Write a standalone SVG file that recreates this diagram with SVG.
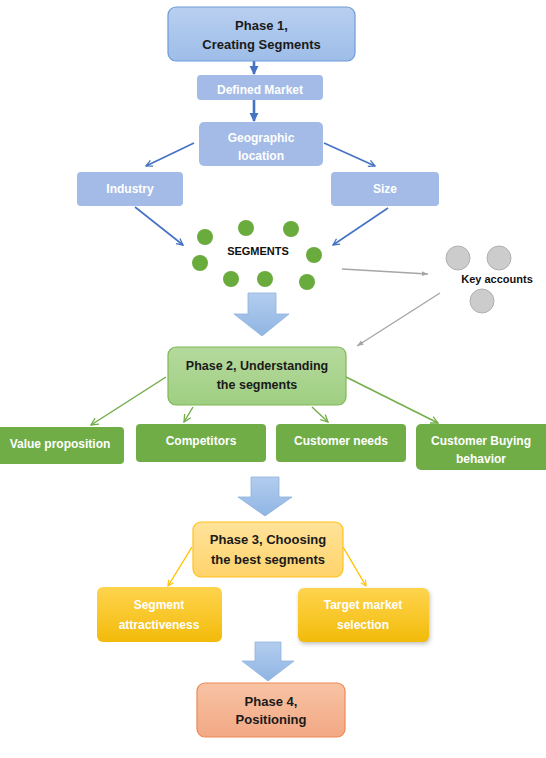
<svg xmlns="http://www.w3.org/2000/svg" width="546" height="758" viewBox="0 0 546 758">
<defs>
<linearGradient id="gBlue" x1="0" y1="0" x2="0" y2="1"><stop offset="0" stop-color="#b9cff0"/><stop offset="1" stop-color="#9dbde8"/></linearGradient>
<linearGradient id="gGreen" x1="0" y1="0" x2="0" y2="1"><stop offset="0" stop-color="#b5d99d"/><stop offset="1" stop-color="#9fcf82"/></linearGradient>
<linearGradient id="gYel" x1="0" y1="0" x2="0" y2="1"><stop offset="0" stop-color="#ffe39a"/><stop offset="1" stop-color="#ffd36b"/></linearGradient>
<linearGradient id="gGold" x1="0" y1="0" x2="0" y2="1"><stop offset="0" stop-color="#ffd44e"/><stop offset="1" stop-color="#f2bb0a"/></linearGradient>
<linearGradient id="gOrange" x1="0" y1="0" x2="0" y2="1"><stop offset="0" stop-color="#f8c3a4"/><stop offset="1" stop-color="#f2a884"/></linearGradient>
<linearGradient id="gArrow" x1="0" y1="0" x2="0" y2="1"><stop offset="0" stop-color="#b3cdee"/><stop offset="1" stop-color="#8fb5e3"/></linearGradient>
<marker id="mBlue" viewBox="0 0 10 10" refX="9" refY="5" markerWidth="8" markerHeight="8" orient="auto" markerUnits="userSpaceOnUse"><path d="M1,1 L9,5 L1,9" fill="none" stroke="#4472c4" stroke-width="1.6"/></marker>
<marker id="mBlueF" viewBox="0 0 10 10" refX="9" refY="5" markerWidth="9" markerHeight="10" orient="auto" markerUnits="userSpaceOnUse"><path d="M0,0 L10,5 L0,10 Z" fill="#4472c4"/></marker>
<marker id="mGreen" viewBox="0 0 10 10" refX="9" refY="5" markerWidth="9" markerHeight="9" orient="auto" markerUnits="userSpaceOnUse"><path d="M1,1 L9,5 L1,9" fill="none" stroke="#70ad47" stroke-width="1.4"/></marker>
<marker id="mGray" viewBox="0 0 10 10" refX="9" refY="5" markerWidth="7" markerHeight="7" orient="auto" markerUnits="userSpaceOnUse"><path d="M0,1.5 L9,5 L0,8.5 Z" fill="#a6a6a6"/></marker>
<marker id="mYel" viewBox="0 0 10 10" refX="9" refY="5" markerWidth="7" markerHeight="7" orient="auto" markerUnits="userSpaceOnUse"><path d="M1,1 L9,5 L1,9" fill="none" stroke="#ffc000" stroke-width="1.6"/></marker>
</defs>
<style>
text{font-family:"Liberation Sans",Arial,sans-serif;font-weight:bold;text-anchor:middle}
.ph{font-size:13px;fill:#1a1a1a}
.wt{font-size:12px;fill:#ffffff}
.bl{stroke:#4472c4;stroke-width:1.6;fill:none;marker-end:url(#mBlue)}
.bv{stroke:#4472c4;stroke-width:2.6;fill:none;marker-end:url(#mBlueF)}
.gr{stroke:#70ad47;stroke-width:1.4;fill:none;marker-end:url(#mGreen)}
.gy{stroke:#a6a6a6;stroke-width:1.4;fill:none;marker-end:url(#mGray)}
.yl{stroke:#ffc000;stroke-width:1.4;fill:none;marker-end:url(#mYel)}
.big{fill:url(#gArrow);stroke:#8fb1dc;stroke-width:0.8}
.dot{fill:#6aab3e}
.gc{fill:#cccccc;stroke:#b0b0b0;stroke-width:1}
</style>
<g id="connectors">
<line class="bv" x1="254" y1="61" x2="254" y2="74"/>
<line class="bv" x1="254" y1="100" x2="254" y2="121"/>
<line class="bl" x1="194" y1="143" x2="146" y2="166"/>
<line class="bl" x1="324" y1="143" x2="375" y2="166"/>
<line class="bl" x1="135" y1="207" x2="183" y2="245"/>
<line class="bl" x1="388" y1="208" x2="333" y2="245"/>
<line class="gy" x1="342" y1="269" x2="428" y2="274"/>
<line class="gy" x1="440" y1="293" x2="357" y2="346"/>
<line class="gr" x1="166" y1="377" x2="91" y2="425"/>
<line class="gr" x1="193" y1="407" x2="184" y2="422"/>
<line class="gr" x1="312" y1="407" x2="328" y2="422"/>
<line class="gr" x1="346" y1="377" x2="438" y2="423"/>
<line class="yl" x1="192" y1="547" x2="168" y2="586"/>
<line class="yl" x1="343" y1="547" x2="366" y2="586"/>
<path class="big" d="M248,293 H276 V314 H289 L262,336 L234,314 H248 Z"/>
<path class="big" d="M251,477 H279 V497 H292 L265,516 L238,497 H251 Z"/>
<path class="big" d="M255,642 H281 V661 H294 L268,681 L242,661 H255 Z"/>
</g>
<g id="phase1"><rect x="168" y="7" width="187" height="54" rx="8" fill="url(#gBlue)" stroke="#6e9bd8" stroke-width="1.2"/><text class="ph" x="261.5" y="29.5">Phase 1,</text><text class="ph" x="261.5" y="48.5">Creating Segments</text></g>
<g id="defined-market"><rect x="197" y="75" width="126" height="25" rx="4" fill="#a3bbe6"/><text class="wt" x="260" y="94">Defined Market</text></g>
<g id="geographic"><rect x="199" y="122" width="124" height="44" rx="5" fill="#a3bbe6"/><text class="wt" x="261" y="141.5">Geographic</text><text class="wt" x="261" y="159.5">location</text></g>
<g id="industry"><rect x="77" y="172" width="106" height="34" rx="4" fill="#a3bbe6"/><text class="wt" x="130" y="192.5">Industry</text></g>
<g id="size"><rect x="331" y="172" width="108" height="34" rx="4" fill="#a3bbe6"/><text class="wt" x="385" y="192.5">Size</text></g>
<g id="segments">
<circle class="dot" cx="205" cy="237" r="8"/><circle class="dot" cx="246" cy="228" r="8"/><circle class="dot" cx="291" cy="229" r="8"/><circle class="dot" cx="314" cy="255" r="8"/><circle class="dot" cx="200" cy="263" r="8"/><circle class="dot" cx="231" cy="279" r="8"/><circle class="dot" cx="265" cy="279" r="8"/><circle class="dot" cx="307" cy="282" r="8"/>
<text x="258" y="255" style="font-size:11px;fill:#111">SEGMENTS</text>
</g>
<g id="key-accounts">
<circle class="gc" cx="458" cy="258" r="12"/><circle class="gc" cx="499" cy="258" r="12"/><circle class="gc" cx="482" cy="301" r="12"/>
<text x="497" y="283" style="font-size:11px;fill:#111">Key accounts</text>
</g>
<g id="phase2"><rect x="168" y="347" width="178" height="58" rx="8" fill="url(#gGreen)" stroke="#7fb857" stroke-width="1.2"/><text class="ph" x="257" y="369.5" style="font-size:12.5px">Phase 2, Understanding</text><text class="ph" x="257" y="388.5" style="font-size:12.5px">the segments</text></g>
<g id="value-proposition"><rect x="-4" y="427" width="128" height="37" rx="4" fill="#70ad47"/><text class="wt" x="60" y="447.5">Value proposition</text></g>
<g id="competitors"><rect x="136" y="424" width="130" height="38" rx="4" fill="#70ad47"/><text class="wt" x="201" y="444.5">Competitors</text></g>
<g id="customer-needs"><rect x="276" y="424" width="130" height="38" rx="4" fill="#70ad47"/><text class="wt" x="341" y="444.5">Customer needs</text></g>
<g id="customer-buying"><rect x="416" y="424" width="134" height="46" rx="5" fill="#70ad47"/><text class="wt" x="481" y="444.5">Customer Buying</text><text class="wt" x="481" y="462.5">behavior</text></g>
<g id="phase3"><rect x="193" y="522" width="150" height="55" rx="8" fill="url(#gYel)" stroke="#ffc21a" stroke-width="1.2"/><text class="ph" x="268" y="543.5">Phase 3, Choosing</text><text class="ph" x="268" y="563.5">the best segments</text></g>
<g id="segment-attractiveness"><rect x="97" y="587" width="125" height="55" rx="6" fill="url(#gGold)"/><text class="wt" x="159" y="608.5">Segment</text><text class="wt" x="159" y="628.5">attractiveness</text></g>
<g id="target-market"><rect x="298" y="588" width="131" height="54" rx="6" fill="url(#gGold)" style="filter:drop-shadow(1px 2px 2px rgba(0,0,0,0.25))"/><text class="wt" x="363" y="608.5">Target market</text><text class="wt" x="363" y="628.5">selection</text></g>
<g id="phase4"><rect x="197" y="683" width="148" height="54" rx="8" fill="url(#gOrange)" stroke="#ec8a55" stroke-width="1.2"/><text class="ph" x="271" y="705.5">Phase 4,</text><text class="ph" x="271" y="724">Positioning</text></g>
</svg>
